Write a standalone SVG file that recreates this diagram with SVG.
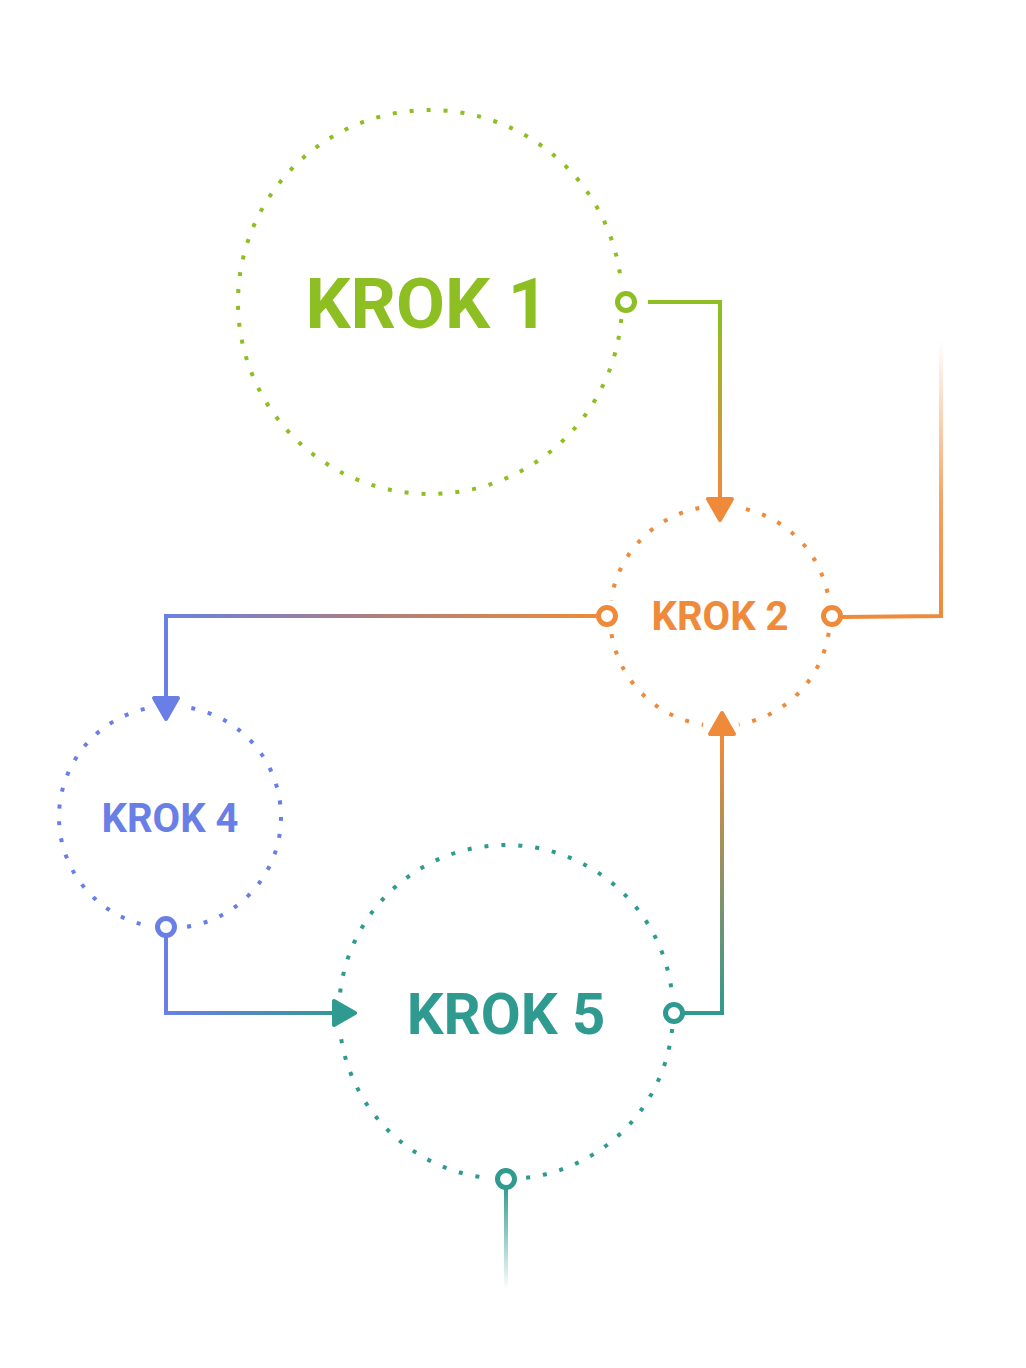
<svg xmlns="http://www.w3.org/2000/svg" width="1026" height="1368" viewBox="0 0 1026 1368">
<style>
.ring{fill:none;stroke-width:4;stroke-dasharray:4 13;stroke-linecap:butt}
.port{fill:#fff;stroke-width:5}
.mask{fill:#fff;stroke:none}
.lbl{font-family:Roboto,"Liberation Sans",sans-serif;font-weight:bold;text-anchor:middle}
.ln{fill:none;stroke-width:4;stroke-linejoin:miter}
.g{stroke:#8dbe22;fill:#8dbe22}
.o{stroke:#ef8a3a;fill:#ef8a3a}
.b{stroke:#6a7fe6;fill:#6a7fe6}
.t{stroke:#2f9a8f;fill:#2f9a8f}
</style>
<defs>
<linearGradient id="g12" gradientUnits="userSpaceOnUse" x1="0" y1="320" x2="0" y2="490"><stop offset="0" stop-color="#8dbe22"/><stop offset="1" stop-color="#ef8a3a"/></linearGradient>
<linearGradient id="g24" gradientUnits="userSpaceOnUse" x1="600" y1="0" x2="166" y2="0"><stop offset="0" stop-color="#ef8a3a"/><stop offset="0.5" stop-color="#b0807a"/><stop offset="1" stop-color="#6a7fe6"/></linearGradient>
<linearGradient id="g45" gradientUnits="userSpaceOnUse" x1="166" y1="0" x2="350" y2="0"><stop offset="0" stop-color="#6a7fe6"/><stop offset="1" stop-color="#2f9a8f"/></linearGradient>
<linearGradient id="g52" gradientUnits="userSpaceOnUse" x1="0" y1="1013" x2="0" y2="740"><stop offset="0" stop-color="#2f9a8f"/><stop offset="1" stop-color="#ef8a3a"/></linearGradient>
<linearGradient id="gout" gradientUnits="userSpaceOnUse" x1="0" y1="616" x2="0" y2="340"><stop offset="0" stop-color="#ef8a3a"/><stop offset="0.4" stop-color="#ef8a3a" stop-opacity="0.8"/><stop offset="1" stop-color="#ef8a3a" stop-opacity="0"/></linearGradient>
<linearGradient id="gbot" gradientUnits="userSpaceOnUse" x1="0" y1="1185" x2="0" y2="1290"><stop offset="0" stop-color="#2f9a8f"/><stop offset="1" stop-color="#2f9a8f" stop-opacity="0"/></linearGradient>
</defs>
<rect width="1026" height="1368" fill="#fff"/>

<g id="node-krok1">
<circle class="ring g" style="fill:none" cx="430" cy="302" r="192"/>
<circle class="mask" cx="626" cy="302" r="17"/>
<circle class="port g" style="fill:#fff" cx="626" cy="302" r="8.5"/>
<text class="lbl" x="427" y="328" font-size="71" fill="#8dbe22">KROK 1</text>
</g>

<g id="node-krok2">
<circle class="ring o" style="fill:none" cx="720" cy="616" r="110"/>
<circle class="mask" cx="607" cy="616" r="16"/>
<circle class="mask" cx="832" cy="616" r="16"/>
<circle class="mask" cx="720" cy="508" r="18"/>
<circle class="mask" cx="721" cy="726" r="18"/>
<circle class="port o" style="fill:#fff" cx="607" cy="616" r="8.5"/>
<circle class="port o" style="fill:#fff" cx="832" cy="616" r="8.5"/>
<text class="lbl" x="720" y="630" font-size="40" fill="#ef8a3a">KROK 2</text>
</g>

<g id="node-krok4">
<circle class="ring b" style="fill:none" cx="170" cy="817" r="111"/>
<circle class="mask" cx="166" cy="927" r="16"/>
<circle class="mask" cx="166" cy="708" r="18"/>
<circle class="port b" style="fill:#fff" cx="166" cy="927" r="8.5"/>
<text class="lbl" x="170" y="832" font-size="40" fill="#6a7fe6">KROK 4</text>
</g>

<g id="node-krok5">
<circle class="ring t" style="fill:none" cx="506" cy="1012" r="167"/>
<circle class="mask" cx="674" cy="1013" r="16"/>
<circle class="mask" cx="506" cy="1179" r="16"/>
<circle class="mask" cx="342" cy="1013" r="18"/>
<circle class="port t" style="fill:#fff" cx="674" cy="1013" r="8.5"/>
<circle class="port t" style="fill:#fff" cx="506" cy="1179" r="8.5"/>
<text class="lbl" x="506" y="1034" font-size="58" fill="#2f9a8f">KROK 5</text>
</g>

<g id="connectors">
<path class="ln" stroke="url(#g12)" d="M648 302H720V500"/>
<path fill="#ef8a3a" stroke="#ef8a3a" stroke-width="4" stroke-linejoin="round" d="M708 499H732L720 520Z"/>

<path class="ln" stroke="url(#g24)" d="M598 616H166V700"/>
<path fill="#6a7fe6" stroke="#6a7fe6" stroke-width="4" stroke-linejoin="round" d="M154 698H178L166 719Z"/>

<path class="ln" stroke="url(#gout)" d="M842 617L941 616V340"/>

<path class="ln" stroke="url(#g45)" d="M166 937V1013H338"/>
<path fill="#2f9a8f" stroke="#2f9a8f" stroke-width="4" stroke-linejoin="round" d="M334 1001V1025L355 1013Z"/>

<path class="ln" stroke="url(#g52)" d="M684 1013H722V733"/>
<path fill="#ef8a3a" stroke="#ef8a3a" stroke-width="4" stroke-linejoin="round" d="M710 734H734L722 713Z"/>

<path class="ln" stroke="url(#gbot)" d="M506 1189V1290"/>
</g>
</svg>
